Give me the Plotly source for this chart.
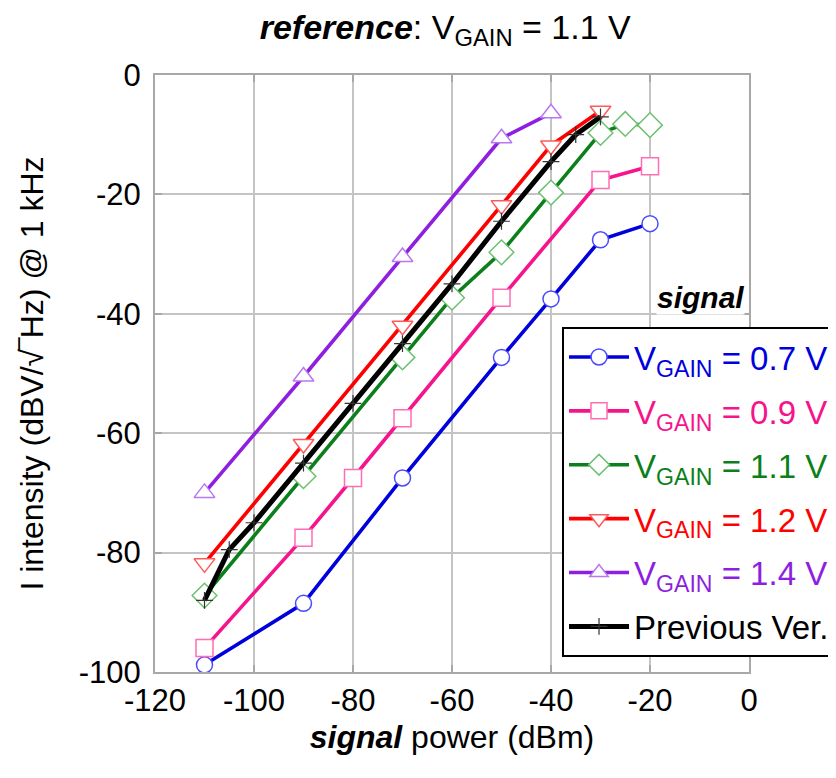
import plotly.graph_objects as go

# ---- data ----
x_07 = [-110, -90, -70, -50, -40, -30, -20]
y_07 = [-98.8, -88.5, -67.5, -47.3, -37.5, -27.6, -24.9]

x_09 = [-110, -90, -80, -70, -50, -30, -20]
y_09 = [-96.0, -77.5, -67.5, -57.5, -37.3, -17.6, -15.3]

x_11 = [-110, -90, -70, -60, -50, -40, -30, -25, -20]
y_11 = [-87.2, -67.2, -47.3, -37.3, -29.7, -19.7, -9.7, -8.2, -8.4]

x_12 = [-110, -90, -70, -50, -40, -30]
y_12 = [-81.8, -61.8, -42.0, -21.8, -11.8, -6.0]

x_14 = [-110, -90, -70, -50, -40]
y_14 = [-70.0, -50.5, -30.5, -10.6, -6.4]

x_prev = [-110, -105, -100, -90, -80, -70, -60, -50, -40, -35, -30]
y_prev = [-88.0, -79.5, -75.0, -65.0, -55.0, -45.0, -35.0, -24.5, -14.5, -10.0, -7.0]

x_ticks = [-120, -100, -80, -60, -40, -20, 0]
x_tick_labels = ["-120", "-100", "-80", "-60", "-40", "-20", "0"]
y_ticks = [-100, -80, -60, -40, -20, 0]
y_tick_labels = ["-100", "-80", "-60", "-40", "-20", "0"]

series = [
    ("V<sub>GAIN</sub> = 0.7 V", x_07, y_07, "#0000DD", "#4A4AFF", "circle", 16),
    ("V<sub>GAIN</sub> = 0.9 V", x_09, y_09, "#F5148C", "#FF6EB4", "square", 17),
    ("V<sub>GAIN</sub> = 1.1 V", x_11, y_11, "#0B7F1A", "#6CC070", "diamond", 19),
    ("V<sub>GAIN</sub> = 1.2 V", x_12, y_12, "#FF0000", "#FF5A5A", "triangle-down", 18),
    ("V<sub>GAIN</sub> = 1.4 V", x_14, y_14, "#8F1FE0", "#B878F0", "triangle-up", 18),
]

fig = go.Figure()
for i, (name, xs, ys, lc, mc, sym, sz) in enumerate(series):
    fig.add_trace(go.Scatter(
        x=xs, y=ys, mode="lines+markers",
        name=f"<span style='color:{lc}'>{name}</span>",
        legendgroup=f"g{i}",
        line=dict(color=lc, width=3.6),
        marker=dict(symbol=sym, size=sz, color="white",
                    line=dict(color=mc, width=1.5)),
    ))

fig.add_trace(go.Scatter(
    x=x_prev, y=y_prev, mode="lines+markers", name="Previous Ver.",
    legendgroup="gprev",
    line=dict(color="black", width=5),
    marker=dict(symbol="cross-thin", size=12, color="black",
                line=dict(color="#333333", width=1.2)),
))

grid = "#C4C4C4"
tickfont = dict(size=31, color="black")
fig.update_layout(
    width=836, height=778,
    margin=dict(l=147, r=95, t=67, b=114, autoexpand=False),
    paper_bgcolor="white", plot_bgcolor="white",
    font=dict(family="Liberation Sans, Arial, sans-serif", color="black"),
    title=dict(text="<b><i>reference</i></b>: V<sub>GAIN</sub> = 1.1 V",
               x=0.523, xanchor="center", y=0.976, yanchor="middle",
               xref="container", yref="container",
               font=dict(size=34, color="black")),
    xaxis=dict(range=[-120, 0], tickvals=x_ticks, ticktext=x_tick_labels,
               showgrid=True, gridcolor=grid, gridwidth=2,
               showline=True, linecolor="#A8A8A8", linewidth=2, mirror="ticks",
               ticks="inside", ticklen=7, tickcolor="#A8A8A8", tickwidth=2,
               tickfont=tickfont, zeroline=False,
               title=dict(text="<b><i>signal</i></b> power (dBm)",
                          font=dict(size=32), standoff=8)),
    yaxis=dict(range=[-100, 0], tickvals=y_ticks, ticktext=y_tick_labels,
               showgrid=True, gridcolor=grid, gridwidth=2,
               showline=True, linecolor="#A8A8A8", linewidth=2, mirror="ticks",
               ticks="inside", ticklen=7, tickcolor="#A8A8A8", tickwidth=2,
               tickfont=tickfont, zeroline=False, ticklabelstandoff=6,
               title=dict(text="I intensity (dBV/√‾Hz) @ 1 kHz",
                          font=dict(size=32), standoff=26)),
    legend=dict(xref="container", yref="container",
                x=0.6627, y=1 - 319 / 778, xanchor="left", yanchor="top",
                bgcolor="white", bordercolor="black", borderwidth=2,
                font=dict(size=33), itemwidth=60, tracegroupgap=8),
    showlegend=True,
)

fig.add_annotation(text="<b><i>signal</i></b>", xref="paper", yref="paper",
                   x=0.993, y=0.628, xanchor="right", yanchor="middle",
                   showarrow=False, font=dict(size=30, color="black"),
                   bgcolor="white", borderpad=0)

fig.write_html("out.html")
